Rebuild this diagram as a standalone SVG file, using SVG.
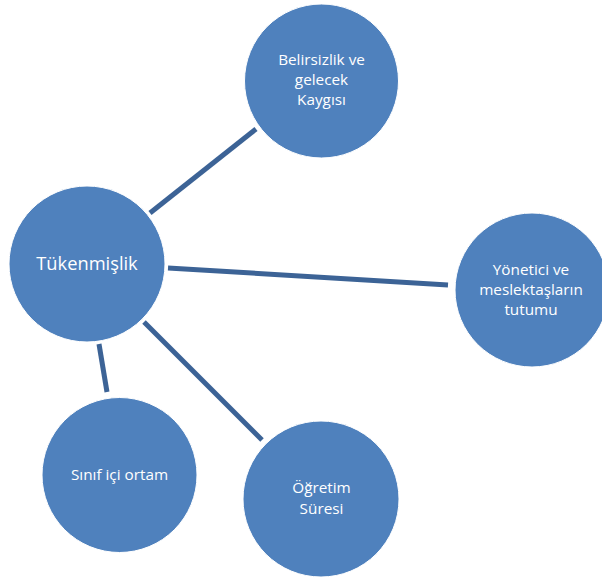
<svg xmlns="http://www.w3.org/2000/svg" width="602" height="581" viewBox="0 0 602 581">
<style>
.node circle{fill:#4f81bd;stroke:#ffffff;stroke-width:1}
.node text{fill:#ffffff;font-family:"Open Sans","Noto Sans","Liberation Sans",sans-serif;font-size:15.3px;text-anchor:middle}
.node text.big{font-size:18.3px}
.conn line{stroke:#3c6396;stroke-width:5;stroke-linecap:butt}
</style>
<rect width="602" height="581" fill="#ffffff"/>
<g id="connectors" class="conn">
<line x1="150" y1="213" x2="256" y2="129"/>
<line x1="168" y1="268" x2="448" y2="285"/>
<line x1="99" y1="344" x2="107" y2="392"/>
<line x1="144" y1="322" x2="262" y2="440"/>
</g>
<g id="tukenmislik" class="node">
<circle cx="87" cy="264" r="78"/>
<text class="big" x="87" y="270">Tükenmişlik</text>
</g>
<g id="belirsizlik" class="node">
<circle cx="321.5" cy="81" r="77"/>
<text x="321.5" y="65">Belirsizlik ve</text>
<text x="321.5" y="85">gelecek</text>
<text x="321.5" y="105">Kaygısı</text>
</g>
<g id="yonetici" class="node">
<circle cx="532" cy="290" r="77"/>
<text x="531" y="275">Yönetici ve</text>
<text x="531" y="295">meslektaşların</text>
<text x="531" y="315">tutumu</text>
</g>
<g id="sinif" class="node">
<circle cx="119.5" cy="475" r="77.5"/>
<text x="119.5" y="480">Sınıf içi ortam</text>
</g>
<g id="ogretim" class="node">
<circle cx="321" cy="499" r="78"/>
<text x="321.5" y="493">Öğretim</text>
<text x="321.5" y="514">Süresi</text>
</g>
</svg>
